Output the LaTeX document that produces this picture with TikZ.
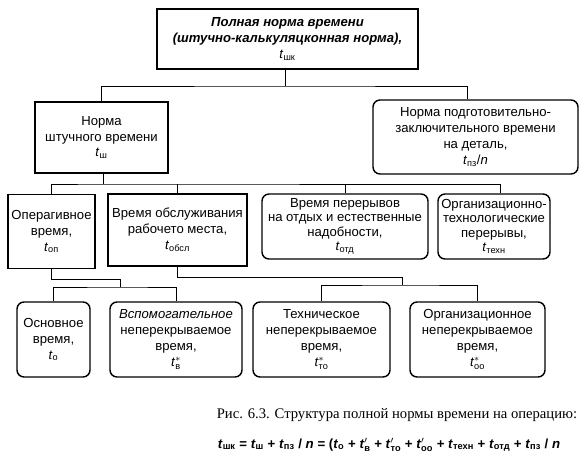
\documentclass[tikz,border=0pt]{standalone}
\usepackage{fontspec}
\usepackage{amsmath}
\setmainfont{Liberation Sans}
\newfontfamily\capfont{Liberation Serif}
\usetikzlibrary{positioning,calc}
\newcommand{\tsub}[1]{\textit{t}\textsubscript{#1}}
\newcommand{\tstar}[2]{\textit{t}\ensuremath{^{#1}_{\text{#2}}}}

\begin{document}
\begin{tikzpicture}[
    x=0.03cm, y=-0.03cm,
    block/.style={rectangle, draw=black, line width=1.2pt, align=center, inner sep=1pt, font=\fontsize{11.2}{13.6}\selectfont},
    rblock/.style={block, rounded corners=6pt},
    tight/.style={font=\fontsize{11.2}{12.4}\selectfont},
    link/.style={draw=black, line width=0.8pt}
]
\useasboundingbox (0,0) rectangle (587,466);

% Top
\node[block, minimum width=7.83cm, minimum height=1.8cm] (total) at (287.5,39)
    {\bfseries\itshape Полная норма времени\\\bfseries\itshape (штучно-калькуляцконная норма),\\\tsub{шк}};

% Level 1
\node[block, minimum width=3.99cm, minimum height=2.13cm] (piece) at (101.5,137.5)
    {Норма\\штучного времени\\\tsub{ш}};
\node[rblock, minimum width=6.15cm, minimum height=2.22cm] (prep) at (475.5,137)
    {Норма подготовительно-\\заключительного времени\\на деталь,\\\tsub{пз}/\textit{n}};

% Level 2
\node[block, minimum width=2.61cm, minimum height=2.22cm] (oper) at (51.5,231.5)
    {Операгивное\\время,\\\tsub{оп}};
\node[block, minimum width=4.17cm, minimum height=2.16cm] (serv) at (177.5,230)
    {Время обслуживания\\рабочето места,\\\tsub{обсл}};
\node[rblock, tight, minimum width=4.98cm, minimum height=1.95cm] (rest) at (345,226.5)
    {Время перерывов\\на отдых и естественные\\надобности,\\\tsub{отд}};
\node[rblock, tight, minimum width=3.36cm, minimum height=1.95cm] (breaks) at (494,226.5)
    {Организационно-\\технологические\\перерывы,\\\tsub{техн}};

% Level 3
\node[rblock, minimum width=2.19cm, minimum height=2.25cm] (main) at (53.5,339.5)
    {Основное\\время,\\\tsub{о}};
\node[rblock, minimum width=3.96cm, minimum height=2.25cm] (aux) at (176,339.5)
    {\textit{Вспомогательное}\\неперекрываемое\\время,\\\tstar{*}{в}};
\node[rblock, minimum width=4.11cm, minimum height=2.25cm] (tech) at (321.5,339.5)
    {Техническое\\неперекрываемое\\время,\\\tstar{*}{то}};
\node[rblock, minimum width=4.05cm, minimum height=2.25cm] (org) at (477.5,339.5)
    {Организационное\\неперекрываемое\\время,\\\tstar{*}{оо}};

% Connectors
\coordinate (j1) at (285,86);
\coordinate (j2) at (103,184);
\coordinate (j3) at (120,287);
\coordinate (j4) at (402,285);
\draw[link] (total.south -| j1) -- (j1);
\draw[link] (piece.north) |- (j1) -| ($(prep.north)+(-8.5,0)$);
\draw[link] (piece.south -| j2) -- (j2);
\draw[link] (oper.north) |- (j2) -| ($(breaks.north)+(6,0)$);
\draw[link] (serv.north) -- (serv.north |- j2);
\draw[link] (rest.north) -- (rest.north |- j2);
\draw[link] (oper.south) -- ++(0,10) -| (j3);
\draw[link] (main.north) |- (j3) -| (aux.north);
\draw[link] (serv.south) -- ++(0,11) -| (j4);
\draw[link] (tech.north) |- (j4) -| (org.north);

% Caption
\node[font=\capfont\fontsize{12.5}{15}\selectfont] (caption) at (397,415)
    {Рис. 6.3. Структура полной нормы времени на операцию:};
\node[font=\bfseries\fontsize{11.3}{13}\selectfont] (formula) at (389,445)
    {\tsub{шк} = \tsub{ш} + \tsub{пз} / \textit{n} = (\tsub{о} + \tstar{\prime}{в} + \tstar{\prime}{то} + \tstar{\prime}{оо} + \tsub{техн} + \tsub{отд} + \tsub{пз} / \textit{n}};

\end{tikzpicture}
\end{document}
